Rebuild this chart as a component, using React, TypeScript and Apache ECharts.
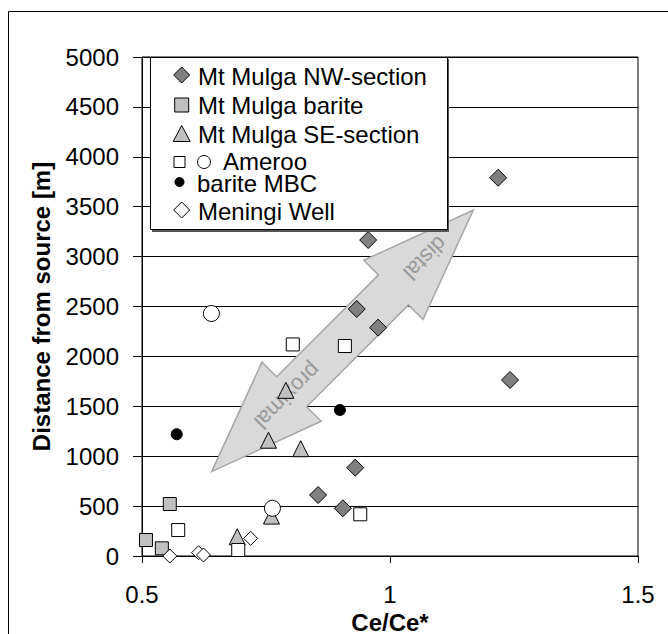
import React, { useEffect, useRef } from "react";
import * as echarts from "echarts";

// Ce/Ce* (x) vs distance from source in m (y)
const mtMulgaNW: number[][] = [
  [1.218, 3790], [0.956, 3166], [0.933, 2475], [0.976, 2288],
  [1.242, 1764], [0.93, 885], [0.855, 611], [0.905, 478],
];
const mtMulgaBarite: number[][] = [[0.556, 521], [0.508, 160], [0.54, 77]];
const mtMulgaSE: number[][] = [
  [0.79, 1660], [0.755, 1160], [0.82, 1075], [0.692, 193], [0.761, 400],
];
const amerooSquares: number[][] = [
  [0.573, 260], [0.694, 60], [0.94, 418], [0.909, 2104], [0.804, 2120],
];
const amerooCircles: number[][] = [[0.64, 2430], [0.763, 478]];
const bariteMBC: number[][] = [[0.57, 1220], [0.899, 1463]];
const meningiWell: number[][] = [[0.556, 0], [0.614, 33], [0.624, 10], [0.719, 177]];

const xMin = 0.5, xMax = 1.5, xStep = 0.5;
const yMin = 0, yMax = 5000, yStep = 500;

// annotation arrow (data coords of its two tips)
const arrowLowTip = [0.6405, 846];
const arrowHighTip = [1.168, 3467];

const FONT = "'Liberation Sans', Arial, Helvetica, sans-serif";

export default function App() {
  const ref = useRef<HTMLDivElement>(null);
  useEffect(() => {
    const chart = echarts.init(ref.current!, null, { renderer: "svg" });
    const dark = "#808080";
    const light = "#c0c0c0";
    const mk = (name: string, data: number[][], symbol: string, size: number, fill: string) => ({
      name, type: "scatter", data, symbol, symbolSize: size, z: 3,
      itemStyle: { color: fill, borderColor: "#000", borderWidth: 1, opacity: 1 },
      emphasis: { disabled: true },
    });
    const option: any = {
      animation: false,
      grid: {
        left: 142, right: 30, top: 57, bottom: 78, show: true,
        borderColor: "#000", borderWidth: 1, backgroundColor: "transparent",
        containLabel: false, outerBoundsMode: "none",
      },
      xAxis: {
        type: "value", min: xMin, max: xMax, interval: xStep,
        name: "Ce/Ce*", nameLocation: "middle", nameGap: 47,
        nameTextStyle: { fontFamily: FONT, fontSize: 24, lineHeight: 24, fontWeight: "bold", color: "#000" },
        axisLine: { show: true, lineStyle: { color: "#000", width: 1 } },
        axisTick: { show: true, length: 7, lineStyle: { color: "#000" } },
        axisLabel: {
          margin: 26, fontSize: 24, lineHeight: 24, color: "#000", fontFamily: FONT,
          showMinLabel: true, showMaxLabel: true, formatter: (v: number) => String(v),
        },
        splitLine: { show: false },
      },
      yAxis: [
        {
          type: "value", min: yMin, max: yMax, interval: yStep, position: "left",
          name: "Distance from source [m]", nameLocation: "middle", nameGap: 89,
          nameMoveOverlap: false,
          nameTextStyle: { fontFamily: FONT, fontSize: 24, fontWeight: "bold", color: "#000" },
          axisLine: { show: true, lineStyle: { color: "#000", width: 1 } },
          axisTick: { show: true, length: 9, lineStyle: { color: "#000" } },
          axisLabel: {
            margin: 23, fontSize: 24, color: "#000", fontFamily: FONT,
            showMinLabel: true, showMaxLabel: true, formatter: (v: number) => String(v),
          },
          splitLine: { show: true, lineStyle: { color: "#000", width: 1 } },
          z: 0,
        },
        {
          type: "value", min: yMin, max: yMax, interval: yStep, position: "left", offset: 0,
          axisLine: { show: false },
          axisTick: { show: true, inside: true, length: 8, lineStyle: { color: "#000" } },
          axisLabel: { show: false },
          splitLine: { show: false },
          z: 10,
        },
      ],
      series: [
        mk("Mt Mulga NW-section", mtMulgaNW, "diamond", 17, dark),
        mk("Mt Mulga barite", mtMulgaBarite, "rect", 13, light),
        mk("Mt Mulga SE-section", mtMulgaSE, "triangle", 16, light),
        mk("Ameroo", amerooSquares, "rect", 13, "#fff"),
        mk("Ameroo circles", amerooCircles, "circle", 16, "#fff"),
        mk("barite MBC", bariteMBC, "circle", 11, "#000"),
        mk("Meningi Well", meningiWell, "diamond", 14, "#fff"),
      ],
    };
    chart.setOption(option);

    // arrow annotation
    const p2 = chart.convertToPixel({ xAxisIndex: 0, yAxisIndex: 0 }, arrowLowTip) as number[];
    const p1 = chart.convertToPixel({ xAxisIndex: 0, yAxisIndex: 0 }, arrowHighTip) as number[];
    const dx = p1[0] - p2[0], dy = p1[1] - p2[1];
    const L = Math.hypot(dx, dy);
    const u = [dx / L, dy / L];
    const n = [-u[1], u[0]];
    const h = 113, H = 41.85, b = 21.2;
    const pt = (base: number[], along: number, side: number) => [
      base[0] + u[0] * along + n[0] * side,
      base[1] + u[1] * along + n[1] * side,
    ];
    const arrowPts = [
      p1, pt(p1, -h, H), pt(p1, -h, b), pt(p2, h, b), pt(p2, h, H),
      p2, pt(p2, h, -H), pt(p2, h, -b), pt(p1, -h, -b), pt(p1, -h, -H),
    ];
    const rot = Math.atan2(-u[1], u[0]) + Math.PI; // text runs from upper-right to lower-left
    const distalC = pt(p1, -68, 0);
    const proxC = pt(p2, 107, 0);

    const diamond = (cx: number, cy: number, s: number) => [
      [cx, cy - s / 2], [cx + s / 2, cy], [cx, cy + s / 2], [cx - s / 2, cy],
    ];
    const tri = (cx: number, cy: number, w: number, hh: number) => [
      [cx, cy - hh / 2], [cx + w / 2, cy + hh / 2], [cx - w / 2, cy + hh / 2],
    ];
    const stroke = { stroke: "#000", lineWidth: 1 };
    const txt = (x: number, y: number, text: string) => ({
      type: "text", x, y, z: 6,
      style: {
        text, fontFamily: FONT, fontSize: 24, lineHeight: 19, fill: "#000",
        verticalAlign: "middle", align: "left",
      },
    });
    chart.setOption({
      graphic: [
        {
          type: "rect", shape: { x: 8.5, y: 11.5, width: 700, height: 700 },
          style: { fill: "none", stroke: "#000", lineWidth: 1 }, z: 0, silent: true,
        },
        {
          type: "polygon", shape: { points: arrowPts }, z: 1, silent: true,
          style: { fill: "#d9d9d9", stroke: "#a6a6a6", lineWidth: 1.5 },
        },
        {
          type: "text", x: distalC[0], y: distalC[1], rotation: rot, z: 1, silent: true,
          style: { text: "distal", fontFamily: FONT, fontSize: 22, fill: "#9a9a9a", align: "center", verticalAlign: "middle" },
        },
        {
          type: "text", x: proxC[0], y: proxC[1], rotation: rot, z: 1, silent: true,
          style: { text: "proximal", fontFamily: FONT, fontSize: 22, fill: "#9a9a9a", align: "center", verticalAlign: "middle" },
        },
        // legend box
        {
          type: "rect", shape: { x: 152, y: 59, width: 297, height: 173 }, z: 5, silent: true,
          style: { fill: "#555", stroke: "none" },
        },
        {
          type: "rect", shape: { x: 150.5, y: 57.5, width: 297, height: 172 }, z: 5, silent: true,
          style: { fill: "#fff", stroke: "#000", lineWidth: 1 },
        },
        { type: "polygon", shape: { points: diamond(181.7, 75, 16) }, z: 6, style: { fill: dark, ...stroke } },
        txt(198, 76, "Mt Mulga NW-section"),
        { type: "rect", shape: { x: 174.7, y: 98, width: 14, height: 14 }, z: 6, style: { fill: light, ...stroke } },
        txt(198, 105, "Mt Mulga barite"),
        { type: "polygon", shape: { points: tri(181.7, 133.5, 17, 16) }, z: 6, style: { fill: light, ...stroke } },
        txt(198, 134, "Mt Mulga SE-section"),
        { type: "rect", shape: { x: 174, y: 156.5, width: 11, height: 11 }, z: 6, style: { fill: "#fff", ...stroke } },
        { type: "circle", shape: { cx: 204, cy: 162, r: 6.5 }, z: 6, style: { fill: "#fff", ...stroke } },
        txt(223, 161, "Ameroo"),
        { type: "circle", shape: { cx: 179.5, cy: 182, r: 4.5 }, z: 6, style: { fill: "#000", ...stroke } },
        txt(197, 183, "barite MBC"),
        { type: "polygon", shape: { points: diamond(181.7, 210, 16) }, z: 6, style: { fill: "#fff", ...stroke } },
        txt(198, 211, "Meningi Well"),
      ],
    });
    return () => chart.dispose();
  }, []);
  return (
    <div
      ref={ref}
      style={{ position: "fixed", left: 0, top: 0, width: 668, height: 634, background: "#fff" }}
    />
  );
}
